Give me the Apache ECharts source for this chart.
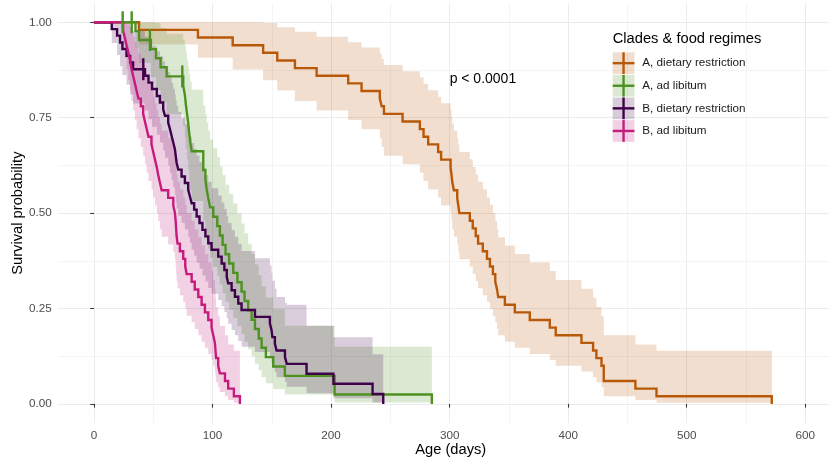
<!DOCTYPE html>
<html>
<head>
<meta charset="utf-8">
<script src="https://cdn.jsdelivr.net/npm/echarts@6/dist/echarts.min.js"></script>
<style>
  html, body { margin: 0; padding: 0; background: #ffffff; }
  #chart { width: 829px; height: 459px; }
</style>
</head>
<body>
<div id="chart"></div>
<script>
// Kaplan–Meier survival by clade and food regime.
// Each row: [age (days), survival, lower 95% CI, upper 95% CI]
const groupNames = ['A, dietary restriction', 'A, ad libitum', 'B, dietary restriction', 'B, ad libitum'];
const groupColors = ['#b8590a', '#4d9221', '#40004b', '#c51b7d'];

const aDietaryRestriction = [
  [0, 1, 1, 1], [38, .98, .942, 1], [87.7, .96, .907, 1], [117, .94, .876, 1],
  [142.7, .92, .848, .998], [154.6, .90, .821, .987], [169.5, .88, .794, .975],
  [187.8, .86, .769, .962], [214.4, .84, .744, .948], [225.7, .82, .720, .934],
  [241.1, .80, .696, .919], [242.7, .78, .673, .904], [244.6, .76, .650, .888],
  [260.3, .74, .628, .872], [274.9, .72, .606, .856], [278, .70, .584, .839],
  [281.9, .68, .562, .822], [290.3, .66, .541, .805], [292.8, .64, .520, .788],
  [300.8, .62, .499, .770], [301.6, .60, .479, .752], [302.3, .58, .458, .734],
  [303.6, .56, .438, .716], [306.4, .54, .418, .697], [307.3, .52, .398, .679],
  [308.2, .50, .379, .660], [317, .48, .360, .641], [319.5, .46, .341, .621],
  [322, .44, .322, .602], [324, .42, .303, .582], [328, .40, .285, .562],
  [331.5, .38, .267, .541], [334, .36, .249, .521], [336.5, .34, .231, .500],
  [338.5, .32, .214, .479], [340, .30, .196, .458], [341, .28, .180, .437],
  [346.6, .26, .163, .415], [355, .24, .147, .393], [367.6, .22, .131, .371],
  [384.5, .20, .115, .348], [389.5, .18, .100, .325], [411.2, .16, .085, .302],
  [421, .14, .070, .278], [423.8, .12, .057, .254], [428.1, .10, .044, .230],
  [430, .08, .031, .205], [430, .06, .020, .180], [456.7, .04, .010, .156],
  [474.5, .02, .003, .139], [571.7, 0, 0, 0]
];

const aAdLibitum = [
  [0, 1, 1, 1], [35, .9767, .933, 1], [38, .9535, .893, 1], [48, .9297, .856, 1],
  [52.3, .9058, .822, .998], [56.2, .882, .790, .985], [61.3, .8582, .759, .970],
  [75.3, .8337, .728, .954], [76.7, .8092, .698, .938], [77.5, .7846, .669, .920],
  [78.5, .7601, .641, .902], [79.5, .7356, .613, .883], [80.3, .7111, .586, .864],
  [81.2, .6866, .559, .844], [82.4, .662, .532, .823], [92.2, .613, .481, .781],
  [94, .5885, .456, .760], [95, .564, .431, .738], [96.4, .5394, .407, .716],
  [98, .5149, .383, .693], [100.6, .4904, .359, .670], [104, .4659, .336, .647],
  [106.2, .4414, .313, .623], [108.5, .4168, .290, .599], [111, .3923, .268, .574],
  [114, .3678, .246, .550], [117.5, .3433, .225, .525], [121, .3188, .204, .499],
  [124.5, .2943, .183, .473], [127, .2697, .163, .447], [130.1, .2452, .143, .420],
  [133, .2207, .124, .393], [135.8, .1962, .105, .365], [139, .1716, .088, .337],
  [141.4, .1471, .070, .308], [145, .1226, .054, .279], [151.2, .0981, .039, .249],
  [161, .0736, .025, .205], [203, .0245, .004, .150], [285, 0, 0, 0]
];

const bDietaryRestriction = [
  [0, 1, 1, 1], [15, .982, .946, 1], [19.5, .965, .914, 1], [22, .947, .885, 1],
  [24, .93, .862, 1], [27.5, .912, .836, .995], [30.5, .895, .811, .987],
  [33, .877, .787, .977], [43, .86, .769, .962], [46, .842, .746, .95],
  [49, .825, .726, .937], [53, .807, .705, .924], [55.6, .79, .685, .911],
  [58.4, .772, .664, .897], [59.9, .755, .645, .884], [62.6, .737, .625, .870],
  [64.1, .72, .606, .856], [65.5, .702, .586, .841], [66.9, .685, .568, .826],
  [68.3, .667, .548, .811], [69, .649, .530, .796], [69.7, .632, .512, .781],
  [71.1, .614, .493, .765], [73.9, .596, .474, .749], [76.7, .579, .457, .733],
  [79.5, .561, .438, .718], [80.9, .544, .422, .701], [82.4, .526, .404, .684],
  [84.5, .509, .388, .668], [86.6, .491, .370, .651], [89, .474, .354, .634],
  [91.5, .456, .337, .617], [94, .439, .321, .600], [96.4, .421, .304, .582],
  [99.2, .404, .289, .565], [104.8, .386, .272, .546], [107.7, .368, .256, .528],
  [110, .351, .241, .511], [112, .333, .225, .492], [113.2, .316, .210, .474],
  [116.1, .298, .194, .455], [118.9, .281, .180, .438], [121.7, .263, .165, .419],
  [124.5, .246, .150, .401], [135.8, .228, .136, .382], [148.4, .211, .123, .363],
  [149.8, .193, .109, .343], [150.5, .175, .095, .323], [152.6, .158, .083, .302],
  [154, .14, .070, .280], [161.1, .123, .058, .265], [162.6, .105, .045, .26],
  [179.3, .079, .028, .205], [202, .053, .015, .175], [235, .026, .004, .13],
  [244, 0, 0, 0]
];

const bAdLibitum = [
  [0, 1, 1, 1], [24.5, .98, .942, 1], [26, .96, .907, 1], [27.5, .94, .876, 1],
  [29, .92, .848, .998], [30.5, .90, .821, .987], [31.5, .88, .794, .975],
  [33, .86, .769, .962], [34.5, .84, .744, .948], [36, .82, .720, .934],
  [37.5, .80, .696, .919], [39.5, .78, .673, .904], [41.5, .76, .650, .888],
  [43, .74, .628, .872], [44.5, .72, .606, .856], [46, .70, .584, .839],
  [48.5, .68, .562, .822], [50, .66, .541, .805], [51.5, .64, .520, .788],
  [53, .62, .499, .770], [54.2, .60, .479, .752], [55.6, .58, .458, .734],
  [57.1, .56, .438, .716], [62.6, .54, .418, .697], [66.9, .52, .398, .679],
  [68.3, .50, .379, .660], [68.9, .48, .360, .641], [69.3, .46, .341, .621],
  [69.7, .44, .322, .602], [70.5, .42, .303, .582], [72.5, .40, .285, .562],
  [75.3, .38, .267, .541], [77, .36, .249, .521], [78.2, .34, .231, .500],
  [82.4, .32, .214, .479], [85, .30, .196, .458], [88, .28, .180, .437],
  [90.8, .26, .163, .415], [93.6, .24, .147, .393], [96.4, .22, .131, .371],
  [99.2, .20, .115, .348], [100.6, .18, .100, .325], [102, .16, .085, .302],
  [102.5, .14, .070, .278], [103, .12, .057, .254], [104.8, .10, .044, .230],
  [106.2, .08, .031, .205], [110.5, .06, .020, .180], [113.2, .04, .010, .156],
  [118, .02, .003, .139], [123.1, 0, 0, 0]
];

// Censored observations: [age (days), survival]
const censoredAAdLibitum = [[24.2, 1], [31.8, 1], [47.2, .9535], [74.5, .8582]];
const censoredBDietaryRestriction = [[41.6, .877]];

// Axis breaks
const xBreaks = [0, 100, 200, 300, 400, 500, 600];
const xMinorBreaks = [50, 150, 250, 350, 450, 550];
const yBreaks = [0, 0.25, 0.5, 0.75, 1];
const yMinorBreaks = [0.125, 0.375, 0.625, 0.875];

const pValueText = 'p < 0.0001';
const pValuePosition = [300, 0.85];

const groups = [aDietaryRestriction, aAdLibitum, bDietaryRestriction, bAdLibitum];
const censored = [[], censoredAAdLibitum, censoredBDietaryRestriction, []];

const FONT = '"Liberation Sans", Arial, Helvetica, sans-serif';
const GRID_MAJOR = '#ebebeb';
const X_MIN = -30, X_MAX = 631.8, Y_MIN = -0.05, Y_MAX = 1.05;

function tint(hex, a) {
  const n = parseInt(hex.slice(1), 16);
  return 'rgba(' + ((n >> 16) & 255) + ',' + ((n >> 8) & 255) + ',' + (n & 255) + ',' + a + ')';
}

// Step-shaped confidence band drawn as one polygon through the axis scales
function ribbon(rows, color) {
  return {
    type: 'custom',
    coordinateSystem: 'cartesian2d',
    silent: true,
    z: 1,
    data: [[0, 0]],
    renderItem: function (params, api) {
      const pts = [];
      for (let i = 0; i < rows.length - 1; i++) {
        pts.push(api.coord([rows[i][0], rows[i][3]]));
        pts.push(api.coord([rows[i + 1][0], rows[i][3]]));
      }
      for (let i = rows.length - 2; i >= 0; i--) {
        pts.push(api.coord([rows[i + 1][0], rows[i][2]]));
        pts.push(api.coord([rows[i][0], rows[i][2]]));
      }
      return { type: 'polygon', shape: { points: pts }, style: { fill: tint(color, 0.2), stroke: null } };
    }
  };
}

const series = [];
groups.forEach(function (rows, i) { series.push(ribbon(rows, groupColors[i])); });
groups.forEach(function (rows, i) {
  series.push({
    type: 'line', name: groupNames[i], step: 'end', silent: true,
    symbol: 'none', showSymbol: false, z: 3,
    data: rows.map(function (r) { return [r[0], r[1]]; }),
    lineStyle: { color: groupColors[i], width: 2.4, cap: 'butt', join: 'miter' }
  });
});
// Censoring marks drawn as vertical ticks
censored.forEach(function (pts, i) {
  if (!pts.length) return;
  series.push({
    type: 'scatter', silent: true, z: 4,
    data: pts, symbol: 'rect', symbolSize: [2.4, 22],
    itemStyle: { color: groupColors[i], opacity: 1 }
  });
});

// Legend drawn as ggplot-style keys: band swatch, line and censoring tick
const legendChildren = [{
  type: 'text', x: 612.7, y: 38.5,
  style: { text: 'Clades & food regimes', font: '14.7px ' + FONT, fill: '#000', verticalAlign: 'middle' }
}];
groupNames.forEach(function (name, i) {
  const top = 52.3 + i * 22.6, size = 21.7, cy = top + size / 2, cx = 612.7 + size / 2;
  legendChildren.push(
    { type: 'rect', shape: { x: 612.7, y: top, width: size, height: size }, style: { fill: tint(groupColors[i], 0.2) } },
    { type: 'line', shape: { x1: 612.7, y1: cy, x2: 612.7 + size, y2: cy }, style: { stroke: groupColors[i], lineWidth: 2.4 } },
    { type: 'line', shape: { x1: cx, y1: top, x2: cx, y2: top + size }, style: { stroke: groupColors[i], lineWidth: 2.4 } },
    { type: 'text', x: 642.3, y: cy, style: { text: name, font: '11.7px ' + FONT, fill: '#1a1a1a', verticalAlign: 'middle' } }
  );
});

function minorAxis(breaks) {
  return {
    type: 'value', show: true,
    axisLine: { show: false }, axisLabel: { show: false },
    axisTick: { show: false, customValues: breaks },
    splitLine: { show: true, lineStyle: { color: GRID_MAJOR, width: 0.55 } }
  };
}

const chart = echarts.init(document.getElementById('chart'), null, { renderer: 'canvas' });
const option = {
  animation: false,
  backgroundColor: '#ffffff',
  textStyle: { fontFamily: FONT },
  grid: { left: 58.4, right: -14, top: 3.2, bottom: 36, containLabel: false, outerBoundsMode: 'none' },
  xAxis: [
    {
      type: 'value', min: X_MIN, max: X_MAX,
      name: 'Age (days)', nameLocation: 'middle', nameGap: 19, nameMoveOverlap: false,
      nameTextStyle: { color: '#000', fontSize: 14.7, fontFamily: FONT },
      axisLine: { show: false },
      axisTick: { show: true, length: 3.7, customValues: xBreaks, lineStyle: { color: '#333333', width: 1.07 } },
      axisLabel: { customValues: xBreaks, color: '#4d4d4d', fontSize: 11.7, margin: 6.6, fontFamily: FONT },
      splitLine: { show: true, lineStyle: { color: GRID_MAJOR, width: 1.07 } }
    },
    Object.assign(minorAxis(xMinorBreaks), { min: X_MIN, max: X_MAX, position: 'top' })
  ],
  yAxis: [
    {
      type: 'value', min: Y_MIN, max: Y_MAX,
      name: 'Survival probability', nameLocation: 'middle', nameGap: 33, nameMoveOverlap: false,
      nameTextStyle: { color: '#000', fontSize: 14.7, fontFamily: FONT },
      axisLine: { show: false },
      axisTick: { show: true, length: 3.7, customValues: yBreaks, lineStyle: { color: '#333333', width: 1.07 } },
      axisLabel: {
        customValues: yBreaks, color: '#4d4d4d', fontSize: 11.7, margin: 6.6, fontFamily: FONT,
        formatter: function (v) { return v.toFixed(2); }
      },
      splitLine: { show: true, lineStyle: { color: GRID_MAJOR, width: 1.07 } }
    },
    Object.assign(minorAxis(yMinorBreaks), { min: Y_MIN, max: Y_MAX, position: 'right' })
  ],
  series: series
};
chart.setOption(option);

// Legend and p-value annotation (p-value anchored in data coordinates)
const pPix = chart.convertToPixel({ gridIndex: 0 }, pValuePosition);
chart.setOption({
  graphic: [
    { type: 'group', z: 100, children: legendChildren },
    { type: 'text', z: 100, x: pPix[0], y: pPix[1], style: { text: pValueText, font: '14px ' + FONT, fill: '#000', verticalAlign: 'middle' } }
  ]
});
</script>
</body>
</html>
